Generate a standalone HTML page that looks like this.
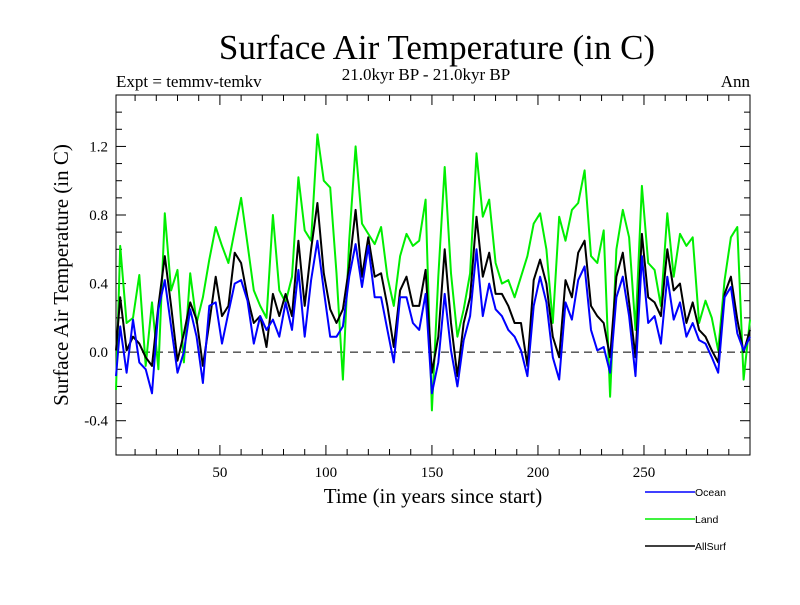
<!DOCTYPE html>
<html><head><meta charset="utf-8"><style>
body{margin:0;background:#fff}
svg text{font-family:"Liberation Serif",serif;fill:#000}
</style></head><body>
<svg id="chart" width="800" height="600" xmlns="http://www.w3.org/2000/svg">
<rect width="800" height="600" fill="#fff"/>
<text x="437" y="59" font-size="35" text-anchor="middle">Surface Air Temperature (in C)</text>
<text x="426" y="80" font-size="17" text-anchor="middle">21.0kyr BP - 21.0kyr BP</text>
<text x="116" y="87" font-size="17">Expt = temmv-temkv</text>
<text x="750" y="87" font-size="17" text-anchor="end">Ann</text>
<text transform="translate(68,275) rotate(-90)" font-size="21" text-anchor="middle">Surface Air Temperature (in C)</text>
<text x="433" y="503" font-size="21" text-anchor="middle">Time (in years since start)</text>
<g id="axes"></g>
<g id="series"></g>
<g id="legend"></g>
</svg>
<script>
const years=[1];
for(let y=3;y<=300;y+=3)years.push(y);
const land=[-0.22,0.62,0.17,0.2,0.45,-0.08,0.29,-0.1,0.81,0.36,0.48,-0.06,0.46,0.17,0.32,0.54,0.73,0.62,0.52,0.71,0.9,0.63,0.36,0.27,0.2,0.8,0.36,0.29,0.44,1.02,0.71,0.65,
1.27,1.0,0.96,0.46,-0.16,0.65,1.2,0.75,0.69,0.63,0.73,0.44,0.27,0.56,0.69,0.62,0.65,0.89,-0.34,0.44,1.08,0.46,0.09,0.25,0.46,1.16,0.79,0.89,0.52,0.4,0.42,0.32,0.44,0.56,
0.75,0.81,0.6,0.17,0.79,0.65,0.83,0.87,1.06,0.56,0.52,0.71,-0.26,0.6,0.83,0.67,0.13,0.97,0.52,0.48,0.27,0.81,0.44,0.69,0.62,0.67,0.17,0.3,0.2,0.01,0.42,0.67,0.73,-0.16,0.19];
const ocean=[-0.14,0.15,-0.12,0.19,-0.06,-0.1,-0.24,0.25,0.42,0.15,-0.12,0,0.25,0.09,-0.18,0.27,0.29,0.05,0.23,0.4,0.42,0.3,0.05,0.21,0.13,0.19,0.09,0.29,0.13,0.48,0.09,0.42,
0.65,0.36,0.09,0.09,0.15,0.44,0.63,0.38,0.62,0.32,0.32,0.13,-0.06,0.32,0.32,0.17,0.13,0.34,-0.24,-0.06,0.34,0.01,-0.2,0.07,0.21,0.6,0.21,0.4,0.25,0.21,0.13,0.09,0.01,-0.14,
0.27,0.44,0.29,-0.03,-0.16,0.29,0.19,0.42,0.5,0.13,0.01,0.03,-0.12,0.32,0.44,0.21,-0.14,0.56,0.17,0.21,0.05,0.44,0.19,0.29,0.09,0.17,0.07,0.05,-0.03,-0.12,0.32,0.38,0.11,0.01,0.09];
const allsurf=[0.01,0.32,0.01,0.09,0.05,-0.03,-0.08,0.27,0.56,0.27,-0.05,0.11,0.29,0.19,-0.08,0.17,0.44,0.21,0.27,0.58,0.52,0.32,0.17,0.21,0.03,0.34,0.21,0.34,0.21,0.65,0.27,0.6,
0.87,0.46,0.25,0.17,0.25,0.5,0.83,0.44,0.67,0.44,0.46,0.27,0.03,0.36,0.44,0.27,0.27,0.48,-0.12,0.09,0.6,0.17,-0.14,0.17,0.32,0.79,0.44,0.58,0.34,0.34,0.27,0.17,0.17,-0.08,
0.42,0.54,0.4,0.09,-0.03,0.42,0.32,0.58,0.65,0.27,0.21,0.17,-0.03,0.44,0.58,0.29,-0.03,0.69,0.32,0.29,0.21,0.6,0.36,0.4,0.17,0.29,0.13,0.09,0.01,-0.06,0.34,0.44,0.19,0,0.13];
const xTicks=[50,100,150,200,250];
const yTicks=[-0.4,0.0,0.4,0.8,1.2];
const yTickLabels=["-0.4","0.0","0.4","0.8","1.2"];

const X0=116,X1=750,Y0=95,Y1=455;
const xMin=1,xMax=300,yMin=-0.6,yMax=1.5;
function xs(v){return X0+(v-xMin)/(xMax-xMin)*(X1-X0);}
function ys(v){return Y1-(v-yMin)/(yMax-yMin)*(Y1-Y0);}
const NS="http://www.w3.org/2000/svg";
function mk(tag,attrs,parent){const e=document.createElementNS(NS,tag);for(const k in attrs)e.setAttribute(k,attrs[k]);parent.appendChild(e);return e;}
const ax=document.getElementById('axes');
const zl=mk('line',{x1:X0,x2:X1,y1:ys(0),y2:ys(0),stroke:'#000','stroke-width':1,'stroke-dasharray':'8,5'},ax);


const fr=mk('rect',{x:X0,y:Y0,width:X1-X0,height:Y1-Y0,fill:'none',stroke:'#000','stroke-width':1},ax);


for(let t=10;t<=300;t+=10){
  const major=t%50===0, L=major?10:6, x=xs(t);
  mk('line',{x1:x,x2:x,y1:Y1,y2:Y1-L,stroke:'#000'},ax);
  mk('line',{x1:x,x2:x,y1:Y0,y2:Y0+L,stroke:'#000'},ax);
}
xTicks.forEach(t=>{
  const tx=mk('text',{x:xs(t),y:Y1+22,'font-size':15,'text-anchor':'middle'},ax);
  tx.textContent=t;
  
  
});
for(let i=-5;i<=14;i++){
  const v=i/10, y=ys(v), major=(i%4===0), L=major?10:6;
  mk('line',{x1:X0,x2:X0+L,y1:y,y2:y,stroke:'#000'},ax);
  mk('line',{x1:X1,x2:X1-L,y1:y,y2:y,stroke:'#000'},ax);
}
yTicks.forEach((v,i)=>{
  const tx=mk('text',{x:X0-8,y:ys(v)+5,'font-size':15,'text-anchor':'end'},ax);
  tx.textContent=yTickLabels[i];
  
  
});
const sg=document.getElementById('series');
function line(data,color,name){
  const d=data.map((v,i)=>(i?'L':'M')+xs(years[i]).toFixed(1)+','+ys(v).toFixed(1)).join('');
  const p=mk('path',{d:d,fill:'none',stroke:color,'stroke-width':2,'stroke-linejoin':'round'},sg);
  
  
}
line(land,'#00ee00','land-series');
line(allsurf,'#000000','allsurf-series');
line(ocean,'#0000ff','ocean-series');
const lg=document.getElementById('legend');
[['Ocean','#0000ff',492,'legend-entry-ocean'],['Land','#00ee00',519,'legend-entry-land'],['AllSurf','#000000',546,'legend-entry-allsurf']].forEach(e=>{
  const g=mk('g',{},lg);
  
  
  mk('line',{x1:645,x2:695,y1:e[2],y2:e[2],stroke:e[1],'stroke-width':1.5},g);
  const t=mk('text',{x:695,y:e[2]+4,'font-size':10.5,style:'font-family:"Liberation Sans",sans-serif'},g);
  t.textContent=e[0];
});
</script>
</body></html>
